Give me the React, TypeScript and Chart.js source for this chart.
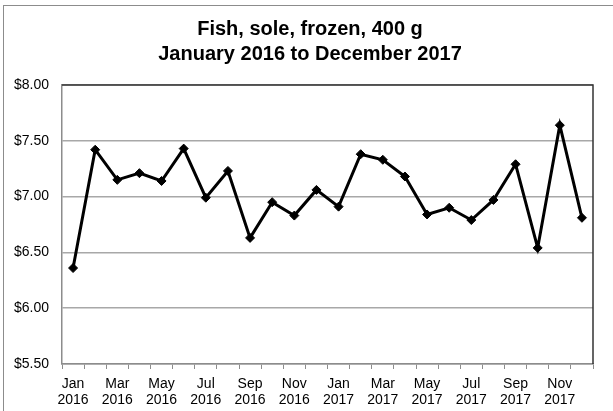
import { useEffect, useRef } from 'react';
import { Chart, registerables } from 'chart.js';

Chart.register(...registerables);

// Monthly average retail price, Jan 2016 – Dec 2017
const months = ['Jan', 'Feb', 'Mar', 'Apr', 'May', 'Jun', 'Jul', 'Aug', 'Sep', 'Oct', 'Nov', 'Dec'];
const years = ['2016', '2017'];
const prices = [
  6.36, 7.42, 7.15, 7.21, 7.14, 7.43, 6.99, 7.23, 6.63, 6.95, 6.83, 7.06,
  6.91, 7.38, 7.33, 7.18, 6.84, 6.90, 6.79, 6.97, 7.29, 6.54, 7.64, 6.81,
];
const titleLines = ['Fish, sole, frozen, 400 g', 'January 2016 to December 2017'];
const yMin = 5.5;
const yMax = 8.0;
const yStep = 0.5;

const FONT = "'Liberation Sans', Arial, sans-serif";

// Dark top/right edge of the plot area
const plotFrame = {
  id: 'plotFrame',
  beforeDatasetsDraw(chart: Chart) {
    const { ctx, chartArea } = chart;
    ctx.save();
    ctx.strokeStyle = '#333';
    ctx.lineWidth = 1.5;
    ctx.beginPath();
    ctx.moveTo(chartArea.left, chartArea.top);
    ctx.lineTo(chartArea.right, chartArea.top);
    ctx.lineTo(chartArea.right, chartArea.bottom);
    ctx.stroke();
    ctx.restore();
  },
};

// Two-line bold heading, centred over the whole chart object
const heading = {
  id: 'heading',
  afterDraw(chart: Chart) {
    const { ctx } = chart;
    ctx.save();
    ctx.fillStyle = '#000';
    ctx.font = `bold 20px ${FONT}`;
    ctx.textAlign = 'center';
    ctx.textBaseline = 'middle';
    titleLines.forEach((line, i) => {
      ctx.fillText(line, 310, 29.5 + i * 24.5);
    });
    ctx.restore();
  },
};

export default function App() {
  const canvasRef = useRef<HTMLCanvasElement>(null);

  useEffect(() => {
    const labels = years.flatMap((y) => months.map((m) => [m, y]));
    const chart = new Chart(canvasRef.current!, {
      type: 'line',
      data: {
        labels,
        datasets: [
          {
            data: prices,
            borderColor: '#000',
            borderWidth: 3,
            tension: 0,
            pointStyle: 'rectRot',
            pointRadius: 4.5,
            pointBackgroundColor: '#000',
            pointBorderColor: '#000',
            pointBorderWidth: 1,
          },
        ],
      },
      options: {
        responsive: false,
        animation: false,
        layout: { padding: { left: 0, right: 20, top: 85, bottom: 0 } },
        plugins: {
          legend: { display: false },
          tooltip: { enabled: false },
          title: { display: false },
        },
        scales: {
          x: {
            type: 'category',
            offset: true,
            grid: {
              offset: true,
              drawOnChartArea: false,
              drawTicks: true,
              tickLength: 5,
              color: '#8c8c8c',
            },
            border: { color: '#8c8c8c', width: 1.5 },
            ticks: {
              autoSkip: false,
              maxRotation: 0,
              minRotation: 0,
              padding: 7,
              color: '#000',
              font: { family: FONT, size: 14, lineHeight: 1.15 },
              callback: (_v: any, i: number) => (i % 2 === 0 ? labels[i] : ''),
            },
            afterFit: (s: any) => {
              s.height = 47;
            },
          },
          y: {
            min: yMin,
            max: yMax,
            grid: { color: '#a8a8a8', lineWidth: 1.5, drawTicks: false },
            border: { color: '#8c8c8c', width: 1.5 },
            ticks: {
              stepSize: yStep,
              padding: 13,
              color: '#000',
              font: { family: FONT, size: 14 },
              callback: (v: any) => '$' + Number(v).toFixed(2),
            },
            afterFit: (s: any) => {
              s.width = 62;
            },
          },
        },
      },
      plugins: [plotFrame, heading],
    });
    return () => chart.destroy();
  }, []);

  return (
    <div
      style={{
        position: 'fixed',
        left: 0,
        top: 0,
        width: 613,
        height: 411,
        overflow: 'hidden',
        background: '#fff',
      }}
    >
      <div
        style={{
          position: 'absolute',
          left: 3,
          top: 5,
          width: 700,
          height: 500,
          border: '1px solid #8c8c8c',
        }}
      />
      <canvas
        ref={canvasRef}
        width={613}
        height={411}
        style={{ position: 'absolute', left: 0, top: 0, width: 613, height: 411 }}
      />
    </div>
  );
}
